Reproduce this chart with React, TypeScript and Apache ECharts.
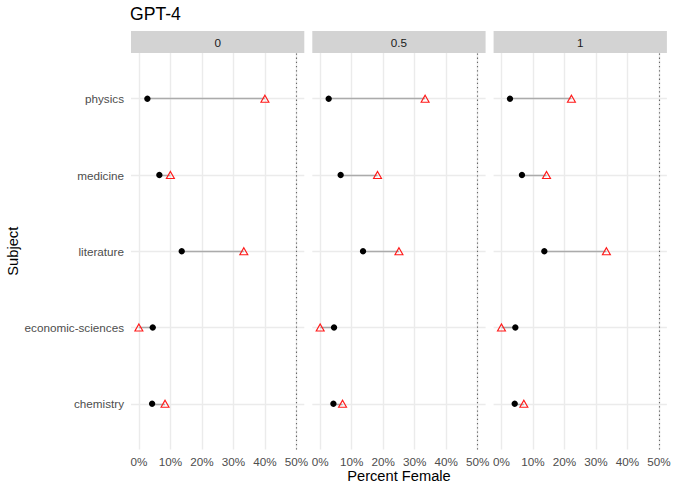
import React, { useEffect, useRef } from "react";
import * as echarts from "echarts";

// ---- data ----
const subjects = ["chemistry", "economic-sciences", "literature", "medicine", "physics"];
const facetLabels = ["0", "0.5", "1"];
const actualFemalePct = [4.2, 4.4, 13.6, 6.5, 2.7];
const gpt4PctFacet0 = [8.3, 0, 33.3, 10.0, 40.0];
const gpt4PctFacet05 = [7.1, 0, 25.0, 18.2, 33.3];
const gpt4PctFacet1 = [7.1, 0, 33.3, 14.3, 22.2];
const xTickValues = [0, 10, 20, 30, 40, 50];
const parityLine = 50;
const chartTitle = "GPT-4";
const xTitle = "Percent Female";
const yTitle = "Subject";

export default function App() {
  const ref = useRef<HTMLDivElement>(null);

  useEffect(() => {
    document.body.style.margin = "0";
    const chart = echarts.init(ref.current!, null, { renderer: "svg" });
    const predicted = [gpt4PctFacet0, gpt4PctFacet05, gpt4PctFacet1];
    const font = "Liberation Sans, Arial, Helvetica, sans-serif";
    const lefts = [131, 312.3, 493.6];
    const W = 173.3;
    const TOP = 53;
    const H = 396.5;
    const yTicks = subjects.map((_, i) => i);

    const grids = lefts.map((l) => ({ left: l, top: TOP, width: W, height: H }));

    const xAxes = lefts.map((_, i) => ({
      type: "value",
      gridIndex: i,
      min: -2.5,
      max: 52.5,
      axisLine: { show: false },
      axisTick: { show: false, customValues: xTickValues },
      axisLabel: {
        customValues: xTickValues,
        formatter: (v: number) => `${v}%`,
        color: "#4d4d4d",
        fontSize: 11.7,
        fontFamily: font,
        margin: 6,
      },
      splitLine: { show: true, lineStyle: { color: "#ebebeb", width: 1.4 } },
    }));

    const yAxes = lefts.map((_, i) => ({
      type: "value",
      gridIndex: i,
      min: -0.6,
      max: subjects.length - 0.4,
      axisLine: { show: false },
      axisTick: { show: false, customValues: yTicks },
      axisLabel: {
        show: i === 0,
        customValues: yTicks,
        formatter: (v: number) => subjects[Math.round(v)] ?? "",
        color: "#4d4d4d",
        fontSize: 11.7,
        fontFamily: font,
        margin: 7,
      },
      splitLine: { show: true, lineStyle: { color: "#ebebeb", width: 1.4 } },
    }));

    const series: any[] = [];
    predicted.forEach((pred, i) => {
      series.push({
        type: "lines",
        coordinateSystem: "cartesian2d",
        xAxisIndex: i,
        yAxisIndex: i,
        silent: true,
        lineStyle: { color: "#ababab", width: 1.3, opacity: 1 },
        data: subjects.map((_, k) => ({
          coords: [
            [actualFemalePct[k], k],
            [pred[k], k],
          ],
        })),
        markLine: {
          silent: true,
          symbol: "none",
          label: { show: false },
          lineStyle: { color: "#666666", type: [1.3, 2.9], width: 1.1 },
          data: [{ xAxis: parityLine }],
        },
      });
      series.push({
        type: "scatter",
        xAxisIndex: i,
        yAxisIndex: i,
        symbol: "circle",
        symbolSize: 6.4,
        itemStyle: { color: "#000000", opacity: 1 },
        data: subjects.map((_, k) => [actualFemalePct[k], k]),
      });
      series.push({
        type: "scatter",
        xAxisIndex: i,
        yAxisIndex: i,
        symbol: "triangle",
        symbolSize: [8, 7],
        itemStyle: { color: "rgba(255,255,255,0)", borderColor: "#ff1a1a", borderWidth: 1.1, opacity: 1 },
        data: subjects.map((_, k) => [pred[k], k]),
      });
    });

    const graphic: any[] = [];
    lefts.forEach((l, i) => {
      graphic.push({
        type: "rect",
        shape: { x: l, y: 31, width: W, height: 22 },
        style: { fill: "#d3d3d3" },
        silent: true,
      });
      graphic.push({
        type: "text",
        x: l + W / 2,
        y: 42.5,
        style: {
          text: facetLabels[i],
          fill: "#1a1a1a",
          fontSize: 11.7,
          fontFamily: font,
          textAlign: "center",
          textVerticalAlign: "middle",
        },
        silent: true,
      });
    });
    graphic.push({
      type: "text",
      x: 130,
      y: 14,
      style: {
        text: chartTitle,
        fill: "#000000",
        fontSize: 17.6,
        fontFamily: font,
        textAlign: "left",
        textVerticalAlign: "middle",
      },
    });
    graphic.push({
      type: "text",
      x: (lefts[0] + lefts[2] + W) / 2,
      y: 476,
      style: {
        text: xTitle,
        fill: "#000000",
        fontSize: 14.67,
        fontFamily: font,
        textAlign: "center",
        textVerticalAlign: "middle",
      },
    });
    graphic.push({
      type: "text",
      x: 12.5,
      y: TOP + H / 2,
      rotation: Math.PI / 2,
      style: {
        text: yTitle,
        fill: "#000000",
        fontSize: 14.67,
        fontFamily: font,
        textAlign: "center",
        textVerticalAlign: "middle",
      },
    });

    chart.setOption({
      animation: false,
      backgroundColor: "#ffffff",
      grid: grids,
      xAxis: xAxes,
      yAxis: yAxes,
      series,
      graphic,
    });

    return () => chart.dispose();
  }, []);

  return (
    <div
      ref={ref}
      style={{ position: "fixed", left: 0, top: 0, width: 674, height: 492, background: "#fff" }}
    />
  );
}
